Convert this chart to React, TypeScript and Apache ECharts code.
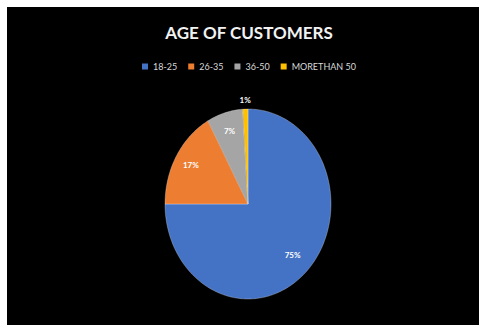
import React, { useEffect, useRef } from "react";
import * as echarts from "echarts";

const categories = ["18-25", "26-35", "36-50", "MORETHAN 50"];
const values = [75, 17, 7, 1];
const colors = ["#4472C4", "#ED7D31", "#A5A5A5", "#FFC000"];

const total = values.reduce((a, b) => a + b, 0);

export default function App() {
  const ref = useRef<HTMLDivElement>(null);
  useEffect(() => {
    if (!ref.current) return;
    const chart = echarts.init(ref.current, undefined, { renderer: "svg" });

    const makeRender = (idx: number) => (params: any, api: any) => {
      const w = api.getWidth();
      const cx = (241 / 472) * w;
      const cy = 197;
      const rx = 83;
      const ry = 95;
      const before = values.slice(0, idx).reduce((a, b) => a + b, 0);
      const v = api.value(0);
      const a0 = (before / total) * Math.PI * 2;
      const a1 = ((before + v) / total) * Math.PI * 2;
      const n = Math.max(2, Math.ceil(((a1 - a0) * 180) / Math.PI));
      const pts: number[][] = [[cx, cy]];
      for (let k = 0; k <= n; k++) {
        const t = a0 + ((a1 - a0) * k) / n;
        pts.push([cx + rx * Math.sin(t), cy - ry * Math.cos(t)]);
      }
      const mid = (a0 + a1) / 2;
      const pct = Math.round((v / total) * 100);
      const f = pct < 3 ? 1.1 : pct > 50 ? 0.76 : 0.8;
      return {
        type: "group",
        children: [
          {
            type: "polygon",
            shape: { points: pts },
            style: {
              fill: colors[idx],
              stroke: "rgba(255,255,255,0.45)",
              lineWidth: 0.6,
            },
          },
          {
            type: "text",
            x: cx + f * rx * Math.sin(mid),
            y: cy - f * ry * Math.cos(mid),
            style: {
              text: pct + "%",
              fill: "#ffffff",
              fontSize: 8,
              fontWeight: "bold",
              fontFamily: "Lato",
              align: "center",
              verticalAlign: "middle",
            },
          },
        ],
      };
    };

    chart.setOption({
      animation: false,
      backgroundColor: "#000000",
      color: colors,
      title: {
        text: "AGE OF CUSTOMERS",
        left: 237,
        textAlign: "center",
        top: 12,
        textStyle: {
          color: "#f2f2f2",
          fontSize: 17,
          fontWeight: "bold",
          fontFamily: "Lato",
        },
      },
      legend: {
        top: 50,
        left: 130,
        icon: "rect",
        itemWidth: 6,
        itemHeight: 6,
        itemGap: 11,
        data: categories,
        textStyle: { color: "#d9d9d9", fontSize: 9, fontFamily: "Lato" },
      },
      series: categories.map((name, i) => ({
        type: "custom",
        name,
        coordinateSystem: "none",
        data: [values[i]],
        itemStyle: { color: colors[i] },
        renderItem: makeRender(i),
      })),
    });
    return () => chart.dispose();
  }, []);
  return (
    <div
      ref={ref}
      style={{
        position: "fixed",
        left: 7,
        top: 7,
        width: 472,
        height: 318,
        background: "#000",
      }}
    />
  );
}
